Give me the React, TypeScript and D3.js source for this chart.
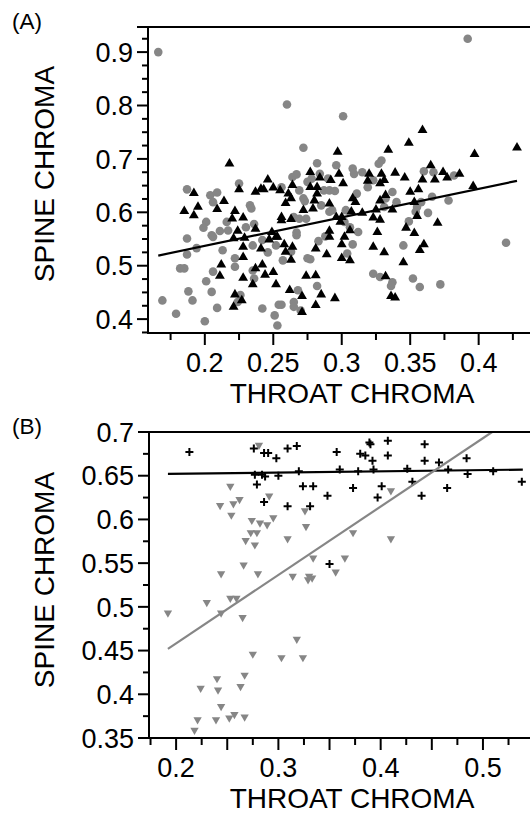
import React from 'react';
import * as d3 from 'd3';

type Pt = [number, number];

const FONT = '"Liberation Sans", Arial, Helvetica, sans-serif';
const GRAY = '#868686';

// ---------- Panel A data (throat chroma, spine chroma) ----------
const panelAGrayCircles: Pt[] = [
  [0.166,0.900],[0.392,0.925],[0.260,0.802],[0.301,0.780],[0.272,0.721],[0.187,0.643],[0.204,0.632],[0.209,0.637],
  [0.206,0.619],[0.225,0.654],[0.233,0.613],[0.234,0.607],[0.201,0.582],[0.199,0.571],[0.216,0.582],[0.211,0.565],
  [0.217,0.566],[0.205,0.557],[0.187,0.551],[0.230,0.572],[0.236,0.578],[0.264,0.666],[0.267,0.671],[0.282,0.692],
  [0.284,0.672],[0.278,0.663],[0.275,0.657],[0.256,0.647],[0.269,0.641],[0.272,0.626],[0.273,0.621],[0.287,0.641],
  [0.291,0.641],[0.295,0.640],[0.296,0.688],[0.290,0.663],[0.291,0.601],[0.265,0.591],[0.269,0.588],[0.274,0.588],
  [0.285,0.613],[0.293,0.604],[0.329,0.697],[0.327,0.691],[0.308,0.682],[0.309,0.672],[0.315,0.675],[0.323,0.660],
  [0.319,0.647],[0.311,0.635],[0.337,0.638],[0.332,0.626],[0.340,0.619],[0.331,0.610],[0.360,0.677],[0.367,0.675],
  [0.382,0.669],[0.366,0.629],[0.378,0.622],[0.358,0.619],[0.355,0.610],[0.354,0.601],[0.363,0.599],[0.349,0.583],
  [0.303,0.604],[0.302,0.582],[0.306,0.572],[0.312,0.563],[0.194,0.533],[0.187,0.521],[0.182,0.495],[0.185,0.495],
  [0.206,0.489],[0.213,0.529],[0.222,0.514],[0.222,0.498],[0.201,0.471],[0.188,0.452],[0.205,0.451],[0.191,0.435],
  [0.169,0.435],[0.179,0.410],[0.200,0.396],[0.209,0.421],[0.226,0.445],[0.224,0.432],[0.235,0.491],[0.236,0.476],
  [0.242,0.420],[0.251,0.407],[0.254,0.427],[0.256,0.427],[0.253,0.388],[0.265,0.432],[0.265,0.423],[0.270,0.416],
  [0.268,0.454],[0.282,0.462],[0.275,0.514],[0.277,0.512],[0.257,0.510],[0.246,0.525],[0.252,0.538],[0.263,0.526],
  [0.267,0.557],[0.283,0.546],[0.235,0.538],[0.206,0.554],[0.420,0.543],[0.345,0.538],[0.308,0.540],[0.304,0.523],
  [0.323,0.485],[0.328,0.479],[0.337,0.469],[0.336,0.462],[0.352,0.476],[0.357,0.460],[0.372,0.465],[0.242,0.548],
  [0.288,0.555],[0.267,0.562],
];

const panelABlackTriangles: Pt[] = [
  [0.218,0.691],[0.192,0.636],[0.185,0.602],[0.195,0.610],[0.192,0.594],[0.209,0.606],[0.214,0.621],[0.225,0.643],
  [0.222,0.602],[0.220,0.588],[0.228,0.590],[0.237,0.638],[0.243,0.643],[0.246,0.661],[0.250,0.646],[0.255,0.641],
  [0.261,0.635],[0.264,0.651],[0.263,0.626],[0.259,0.617],[0.256,0.591],[0.263,0.587],[0.256,0.585],[0.272,0.604],
  [0.279,0.607],[0.280,0.622],[0.277,0.675],[0.282,0.635],[0.277,0.647],[0.282,0.647],[0.284,0.665],[0.292,0.660],
  [0.291,0.616],[0.296,0.591],[0.297,0.713],[0.224,0.565],[0.237,0.569],[0.249,0.563],[0.252,0.554],[0.291,0.565],
  [0.334,0.717],[0.349,0.730],[0.397,0.709],[0.428,0.721],[0.365,0.688],[0.374,0.675],[0.386,0.672],[0.377,0.665],
  [0.368,0.661],[0.359,0.661],[0.346,0.665],[0.339,0.674],[0.329,0.672],[0.320,0.672],[0.319,0.659],[0.331,0.660],
  [0.328,0.654],[0.298,0.672],[0.301,0.654],[0.308,0.626],[0.310,0.619],[0.332,0.632],[0.328,0.622],[0.350,0.638],
  [0.356,0.643],[0.353,0.619],[0.396,0.649],[0.337,0.605],[0.325,0.605],[0.315,0.599],[0.307,0.601],[0.323,0.590],
  [0.328,0.586],[0.300,0.591],[0.299,0.582],[0.306,0.566],[0.326,0.563],[0.355,0.593],[0.347,0.571],[0.370,0.580],
  [0.353,0.561],[0.302,0.554],[0.212,0.502],[0.211,0.481],[0.228,0.516],[0.228,0.477],[0.235,0.465],[0.237,0.495],
  [0.242,0.502],[0.244,0.483],[0.250,0.488],[0.252,0.465],[0.222,0.446],[0.221,0.423],[0.227,0.435],[0.262,0.454],
  [0.271,0.443],[0.274,0.481],[0.281,0.482],[0.285,0.446],[0.281,0.426],[0.271,0.413],[0.295,0.439],[0.258,0.540],
  [0.264,0.535],[0.259,0.526],[0.263,0.511],[0.281,0.532],[0.289,0.521],[0.291,0.554],[0.228,0.535],[0.241,0.532],
  [0.247,0.549],[0.253,0.554],[0.221,0.551],[0.229,0.552],[0.300,0.540],[0.300,0.514],[0.306,0.510],[0.323,0.535],
  [0.331,0.525],[0.360,0.540],[0.357,0.529],[0.345,0.506],[0.332,0.480],[0.336,0.443],[0.339,0.440],[0.359,0.754],
  [0.241,0.644],
];

const panelALine: Pt[] = [[0.166, 0.519], [0.428, 0.659]];

// ---------- Panel B data ----------
const panelBCrosses: Pt[] = [
  [0.213,0.677],[0.276,0.681],[0.286,0.676],[0.277,0.651],[0.284,0.651],[0.279,0.640],[0.286,0.620],[0.290,0.676],
  [0.298,0.670],[0.309,0.681],[0.318,0.684],[0.357,0.677],[0.389,0.688],[0.390,0.686],[0.407,0.690],[0.443,0.686],
  [0.380,0.675],[0.385,0.673],[0.392,0.667],[0.407,0.673],[0.443,0.667],[0.457,0.665],[0.484,0.670],[0.300,0.650],
  [0.320,0.655],[0.360,0.657],[0.378,0.655],[0.393,0.657],[0.426,0.658],[0.466,0.657],[0.485,0.652],[0.510,0.655],
  [0.538,0.643],[0.431,0.643],[0.324,0.638],[0.334,0.638],[0.373,0.636],[0.401,0.638],[0.465,0.636],[0.348,0.627],
  [0.397,0.625],[0.440,0.627],[0.309,0.615],[0.331,0.615],[0.350,0.549],[0.287,0.649],
];

const panelBGrayTriangles: Pt[] = [
  [0.281,0.685],[0.253,0.638],[0.262,0.623],[0.256,0.618],[0.243,0.616],[0.254,0.605],[0.274,0.599],[0.282,0.596],
  [0.273,0.585],[0.279,0.585],[0.268,0.576],[0.277,0.571],[0.266,0.548],[0.244,0.538],[0.280,0.538],[0.291,0.627],
  [0.295,0.602],[0.289,0.594],[0.326,0.610],[0.327,0.592],[0.309,0.578],[0.373,0.585],[0.410,0.633],[0.410,0.578],
  [0.334,0.556],[0.365,0.556],[0.356,0.540],[0.314,0.535],[0.330,0.535],[0.333,0.533],[0.329,0.531],[0.192,0.493],
  [0.230,0.505],[0.244,0.493],[0.265,0.488],[0.275,0.446],[0.267,0.422],[0.240,0.418],[0.263,0.409],[0.224,0.407],
  [0.241,0.405],[0.244,0.386],[0.221,0.371],[0.239,0.371],[0.252,0.373],[0.257,0.377],[0.267,0.374],[0.218,0.359],
  [0.318,0.463],[0.303,0.442],[0.324,0.442],[0.253,0.510],[0.259,0.510],
];

const panelBBlackLine: Pt[] = [[0.192, 0.652], [0.539, 0.657]];
const panelBGrayLine: Pt[] = [[0.192, 0.452], [0.509, 0.700]];

// ---------- Axis ticks ----------
const xLabelsA = [0.2, 0.25, 0.3, 0.35, 0.4];
const yLabelsA = [0.4, 0.5, 0.6, 0.7, 0.8, 0.9];
const xLabelsB = [0.2, 0.3, 0.4, 0.5];
const yLabelsB = [0.35, 0.4, 0.45, 0.5, 0.55, 0.6, 0.65, 0.7];

const fmt = (v: number) => String(+v.toFixed(3));

function ticksIn(domain: [number, number], step: number): number[] {
  const lo = Math.ceil(domain[0] / step - 1e-9);
  const hi = Math.floor(domain[1] / step + 1e-9);
  return d3.range(lo, hi + 1).map((i) => +(i * step).toFixed(4));
}
const isMult = (v: number, step: number) => Math.abs(v / step - Math.round(v / step)) < 1e-6;

interface PanelProps {
  tag: string;
  xDomain: [number, number];
  yDomain: [number, number];
  box: { left: number; right: number; top: number; bottom: number };
  xMajor: number;
  yMajor: number;
  xLabels: number[];
  yLabels: number[];
  yTitleY: number;
  children: (x: d3.ScaleLinear<number, number>, y: d3.ScaleLinear<number, number>) => React.ReactNode;
}

function Panel({ tag, xDomain, yDomain, box, xMajor, yMajor, xLabels, yLabels, yTitleY, children }: PanelProps) {
  const x = d3.scaleLinear().domain(xDomain).range([box.left, box.right]);
  const y = d3.scaleLinear().domain(yDomain).range([box.bottom, box.top]);
  const xTicks = ticksIn(xDomain, 0.025);
  const yTicks = ticksIn(yDomain, 0.025);
  const sw = 2;
  const cid = 'clip' + tag.replace(/\W/g, '');
  return (
    <g>
      <text x={12} y={box.top + 2} fontFamily={FONT} fontSize={22.5} fill="#000">{tag}</text>
      <defs>
        <clipPath id={cid}>
          <rect x={box.left} y={box.top} width={box.right - box.left} height={box.bottom - box.top} />
        </clipPath>
      </defs>
      <g clipPath={`url(#${cid})`}>{children(x, y)}</g>
      {/* frame */}
      <line x1={box.left - 11} x2={box.right} y1={box.top} y2={box.top} stroke="#000" strokeWidth={sw} />
      <line x1={box.left} x2={box.left} y1={box.top} y2={box.bottom + 1} stroke="#000" strokeWidth={sw} />
      <line x1={box.left - 1} x2={box.right} y1={box.bottom} y2={box.bottom} stroke="#000" strokeWidth={sw} />
      {/* y ticks */}
      {yTicks.map((v) => {
        const major = isMult(v, yMajor);
        return (
          <line key={'yt' + v} x1={box.left - (major ? 11 : 6)} x2={box.left} y1={y(v)} y2={y(v)} stroke="#000" strokeWidth={sw} />
        );
      })}
      {yLabels.map((v) => (
        <text key={'yl' + v} x={box.left - 15} y={y(v)} dy="0.36em" textAnchor="end" fontFamily={FONT} fontSize={27} fill="#000">
          {fmt(v)}
        </text>
      ))}
      {/* x ticks */}
      {xTicks.map((v) => {
        const major = isMult(v, xMajor);
        return (
          <line key={'xt' + v} x1={x(v)} x2={x(v)} y1={box.bottom} y2={box.bottom + (major ? 12 : 7)} stroke="#000" strokeWidth={sw} />
        );
      })}
      {xLabels.map((v) => (
        <text key={'xl' + v} x={x(v)} y={box.bottom + 39} textAnchor="middle" fontFamily={FONT} fontSize={27} fill="#000">
          {fmt(v)}
        </text>
      ))}
      <text x={352} y={box.bottom + 70} textAnchor="middle" fontFamily={FONT} fontSize={28} fill="#000">
        THROAT CHROMA
      </text>
      <text
        transform={`translate(54,${yTitleY}) rotate(-90)`}
        textAnchor="middle"
        fontFamily={FONT}
        fontSize={28}
        fill="#000"
      >
        SPINE CHROMA
      </text>
    </g>
  );
}

const triUp = d3.symbol(d3.symbolTriangle, 42)() as string;
const triDown = d3.symbol(d3.symbolTriangle, 30)() as string;

export default function App() {
  return (
    <svg width={530} height={815} style={{ position: 'absolute', left: 0, top: 0, background: '#fff' }}>
      <rect width={530} height={815} fill="#fff" />
      <Panel
        tag="(A)"
        xDomain={[0.1585, 0.4375]}
        yDomain={[0.374, 0.947]}
        box={{ left: 148, right: 530, top: 27, bottom: 333 }}
        xMajor={0.05}
        yMajor={0.1}
        xLabels={xLabelsA}
        yLabels={yLabelsA}
        yTitleY={174}
      >
        {(x, y) => (
          <g>
            {panelAGrayCircles.map((d, i) => (
              <circle key={'c' + i} cx={x(d[0])} cy={y(d[1])} r={4.3} fill={GRAY} />
            ))}
            {panelABlackTriangles.map((d, i) => (
              <path key={'t' + i} d={triUp} transform={`translate(${x(d[0])},${y(d[1])})`} fill="#000" />
            ))}
            <line
              x1={x(panelALine[0][0])} y1={y(panelALine[0][1])}
              x2={x(panelALine[1][0])} y2={y(panelALine[1][1])}
              stroke="#000" strokeWidth={2.2}
            />
          </g>
        )}
      </Panel>
      <Panel
        tag="(B)"
        xDomain={[0.1735, 0.546]}
        yDomain={[0.35, 0.7]}
        box={{ left: 149, right: 530, top: 432, bottom: 738 }}
        xMajor={0.05}
        yMajor={0.05}
        xLabels={xLabelsB}
        yLabels={yLabelsB}
        yTitleY={580}
      >
        {(x, y) => (
          <g>
            {panelBGrayTriangles.map((d, i) => (
              <path key={'g' + i} d={triDown} transform={`translate(${x(d[0])},${y(d[1])}) rotate(180)`} fill={GRAY} />
            ))}
            {panelBCrosses.map((d, i) => {
              const cx = x(d[0]);
              const cy = y(d[1]);
              return (
                <path key={'p' + i} d={`M${cx - 4},${cy}H${cx + 4}M${cx},${cy - 4}V${cy + 4}`} stroke="#000" strokeWidth={2} />
              );
            })}
            <line
              x1={x(panelBBlackLine[0][0])} y1={y(panelBBlackLine[0][1])}
              x2={x(panelBBlackLine[1][0])} y2={y(panelBBlackLine[1][1])}
              stroke="#000" strokeWidth={2.2}
            />
            <line
              x1={x(panelBGrayLine[0][0])} y1={y(panelBGrayLine[0][1])}
              x2={x(panelBGrayLine[1][0])} y2={y(panelBGrayLine[1][1])}
              stroke={GRAY} strokeWidth={2.2}
            />
          </g>
        )}
      </Panel>
    </svg>
  );
}
